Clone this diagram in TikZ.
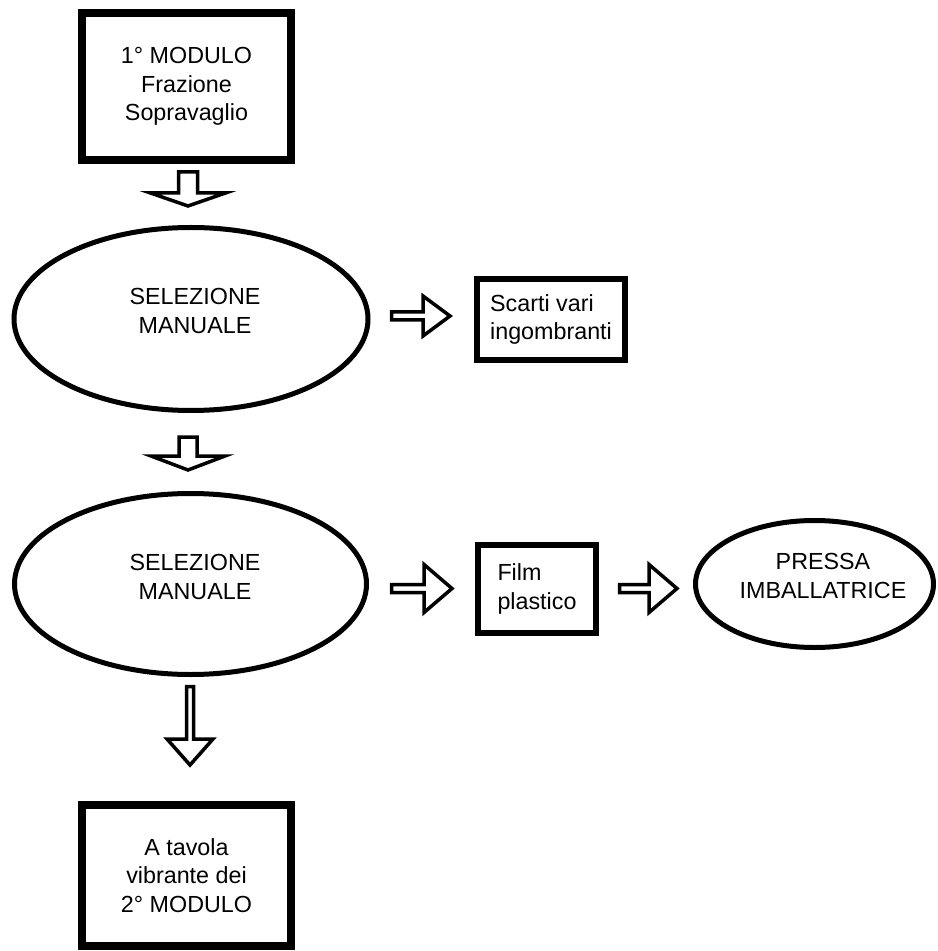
\documentclass[tikz,border=0pt]{standalone}
\usepackage{fontspec}
\setmainfont{Liberation Sans}
\usetikzlibrary{shapes.geometric}
\begin{document}
\begin{tikzpicture}[x=0.5pt,y=-0.5pt,
  every node/.style={font=\fontsize{11.65}{14.2}\selectfont, text=black},
  modulebox/.style={draw, line width=4pt, rectangle, inner sep=0pt, align=center},
  outbox/.style={draw, line width=3pt, rectangle, inner sep=0pt, align=left},
  process/.style={draw, line width=2.5pt, ellipse, inner sep=0pt},
  proctext/.style={align=center, inner sep=0pt},
  blockline/.style={draw, line width=1.75pt, fill=white, line join=miter},
  % hollow block arrow: shaft half-width, head half-width, head base, tip
  pics/blockarrow/.style n args={4}{code={
    \path[blockline] (0,-#1) -- (#3,-#1) -- (#3,-#2) -- (#4,0) -- (#3,#2) -- (#3,#1) -- (0,#1) -- cycle;}}
]
\useasboundingbox (0,0) rectangle (937,951);

% first module
\node[modulebox, minimum width=104.5pt, minimum height=73.5pt] (m1) at (186.5,86.5)
  {1° MODULO\\Frazione\\Sopravaglio};

% first manual sorting
\node[process, minimum width=177pt, minimum height=91.5pt] (e1) at (191,319) {};
\node[proctext] (e1t) at (195,311) {SELEZIONE\\MANUALE};

\node[outbox, minimum width=74pt, minimum height=40.5pt] (s1) at (551,319.5)
  {Scarti vari\\ingombranti};

% second manual sorting
\node[process, minimum width=176pt, minimum height=90.5pt] (e2) at (190.5,584) {};
\node[proctext] (e2t) at (195,577) {SELEZIONE\\MANUALE};

\node[outbox, minimum width=59pt, minimum height=44pt] (f1) at (537,589)
  {Film\\plastico};

\node[process, minimum width=119pt, minimum height=63.5pt] (p1) at (814.5,584) {};
\node[proctext] (p1t) at (823,576) {PRESSA\\IMBALLATRICE};

% second module
\node[modulebox, minimum width=104.5pt, minimum height=70.5pt] (m2) at (186.5,875.5)
  {A tavola\\vibrante dei\\2° MODULO};

% block arrows between the stages
\pic (a1) [rotate=-90] at (188,172) {blockarrow={9.5}{37.5}{21}{34}};
\pic (a2) [rotate=-90] at (188,437) {blockarrow={9}{37}{19}{33}};
\pic (a3) [rotate=-90] at (190,686.5) {blockarrow={3.5}{23}{52.5}{78.5}};
\pic (r1) at (391.5,316) {blockarrow={4}{20}{31.5}{58.5}};
\pic (r2) at (391.5,588.5) {blockarrow={4}{24}{32.5}{60.5}};
\pic (r3) at (619.5,588.5) {blockarrow={4}{24}{29.5}{57.5}};
\end{tikzpicture}
\end{document}
